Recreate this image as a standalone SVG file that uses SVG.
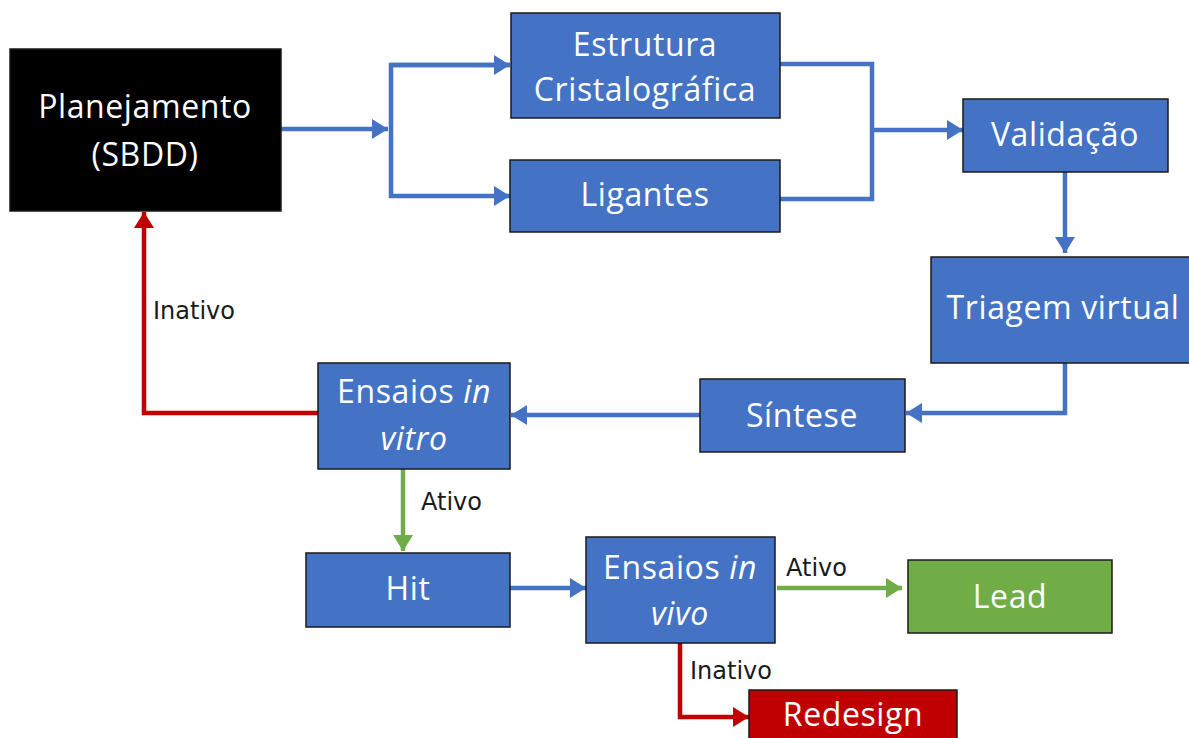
<svg xmlns="http://www.w3.org/2000/svg" width="1189" height="738" viewBox="0 0 1189 738">
<style>
.box{stroke:#1a1a1a;stroke-width:1.5}
.blue{fill:#4472C4}
.t{font-family:"Open Sans","Liberation Sans",sans-serif;font-size:32px;letter-spacing:0.6px;fill:#ffffff;text-anchor:middle}
.lbl{font-family:"DejaVu Sans","Liberation Sans",sans-serif;font-size:24px;fill:#1a1a1a}
.cb{fill:none;stroke:#4472C4;stroke-width:4.5}
.cg{fill:none;stroke:#70AD47;stroke-width:4.5}
.cr{fill:none;stroke:#C00000;stroke-width:4.5}
</style>
<defs>
<marker id="ab" markerUnits="userSpaceOnUse" markerWidth="16" markerHeight="20" refX="16" refY="10" orient="auto"><path d="M0,0 L16,10 L0,20 Z" fill="#4472C4"/></marker>
<marker id="ag" markerUnits="userSpaceOnUse" markerWidth="16" markerHeight="20" refX="16" refY="10" orient="auto"><path d="M0,0 L16,10 L0,20 Z" fill="#70AD47"/></marker>
<marker id="ar" markerUnits="userSpaceOnUse" markerWidth="16" markerHeight="20" refX="16" refY="10" orient="auto"><path d="M0,0 L16,10 L0,20 Z" fill="#C00000"/></marker>
</defs>
<rect width="1189" height="738" fill="#ffffff"/>
<g id="connectors">
<path class="cb" d="M281,129 L388,129" marker-end="url(#ab)"/>
<path class="cb" d="M510,65 L391,65 L391,196 L510,196" marker-end="url(#ab)"/>
<path class="cb" d="M391,65 L510,65" marker-end="url(#ab)"/>
<path class="cb" d="M780,64 L872,64 L872,199 L780,199"/>
<path class="cb" d="M872,130 L963,130" marker-end="url(#ab)"/>
<path class="cb" d="M1065,172 L1065,253" marker-end="url(#ab)"/>
<path class="cb" d="M1065,363 L1065,413 L906,413" marker-end="url(#ab)"/>
<path class="cb" d="M700,415 L511,415" marker-end="url(#ab)"/>
<path class="cr" d="M318,413 L144,413 L144,212" marker-end="url(#ar)"/>
<path class="cg" d="M403,469 L403,551" marker-end="url(#ag)"/>
<path class="cb" d="M510,588 L586,588" marker-end="url(#ab)"/>
<path class="cg" d="M777,588 L902,588" marker-end="url(#ag)"/>
<path class="cr" d="M680,643 L680,717 L749,717" marker-end="url(#ar)"/>
<text class="lbl" x="153" y="319">Inativo</text>
<text class="lbl" x="421" y="510">Ativo</text>
<text class="lbl" x="786" y="576">Ativo</text>
<text class="lbl" x="690" y="679">Inativo</text>
</g>
<g id="planejamento"><rect class="box" x="10" y="49" width="271" height="162" fill="#000000"/><text class="t" x="145" y="118">Planejamento</text><text class="t" x="145" y="166">(SBDD)</text></g>
<g id="estrutura"><rect class="box blue" x="511" y="13" width="269" height="105"/><text class="t" x="645" y="56">Estrutura</text><text class="t" x="645" y="101">Cristalográfica</text></g>
<g id="ligantes"><rect class="box blue" x="510" y="160" width="270" height="72"/><text class="t" x="645" y="206">Ligantes</text></g>
<g id="validacao"><rect class="box blue" x="963" y="99" width="205" height="73"/><text class="t" x="1065" y="146">Validação</text></g>
<g id="triagem"><rect class="box blue" x="931" y="257" width="262" height="106"/><text class="t" x="1063" y="319">Triagem virtual</text></g>
<g id="sintese"><rect class="box blue" x="700" y="379" width="205" height="73"/><text class="t" x="802" y="427">Síntese</text></g>
<g id="invitro"><rect class="box blue" x="318" y="363" width="192" height="106"/><text class="t" x="414" y="403">Ensaios <tspan font-style="italic">in</tspan></text><text class="t" x="414" y="450" font-style="italic">vitro</text></g>
<g id="hit"><rect class="box blue" x="306" y="553" width="204" height="74"/><text class="t" x="408" y="600">Hit</text></g>
<g id="invivo"><rect class="box blue" x="586" y="537" width="189" height="106"/><text class="t" x="680" y="579">Ensaios <tspan font-style="italic">in</tspan></text><text class="t" x="680" y="625" font-style="italic">vivo</text></g>
<g id="lead"><rect class="box" x="908" y="560" width="204" height="73" fill="#70AD47"/><text class="t" x="1010" y="608">Lead</text></g>
<g id="redesign"><rect class="box" x="749" y="690" width="208" height="60" fill="#C00000"/><text class="t" x="853" y="726">Redesign</text></g>
</svg>
